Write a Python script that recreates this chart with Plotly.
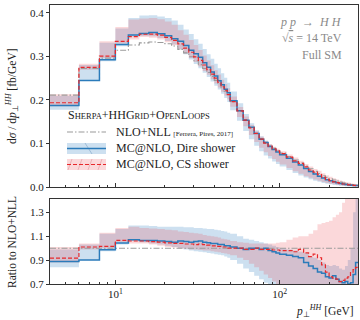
import plotly.graph_objects as go

# ---------------- data ----------------
edges = list(range(4, 50, 2)) + list(range(50, 100, 5)) + list(range(100, 301, 10))

# NLO+NLL [fb/GeV]
nll = [0.211, 0.272, 0.296, 0.314, 0.326, 0.331, 0.333, 0.332, 0.329, 0.324, 0.316, 0.308,
       0.299, 0.290, 0.281, 0.272, 0.263, 0.254, 0.245, 0.237, 0.228, 0.220, 0.212,
       0.196, 0.175, 0.155, 0.137, 0.123, 0.111, 0.102, 0.095, 0.089, 0.084,
       0.078, 0.070, 0.062, 0.055, 0.048, 0.042, 0.036, 0.031, 0.026, 0.022,
       0.019, 0.016, 0.0135, 0.0113, 0.0095, 0.008, 0.0067, 0.0056, 0.0047, 0.0039]

# ratios to NLO+NLL
dire_c = [0.888, 0.900, 0.987, 1.043, 1.070, 1.065, 1.065, 1.060, 1.055, 1.050, 1.060, 1.055,
          1.050, 1.055, 1.060, 1.050, 1.045, 1.040, 1.040, 1.030, 1.030, 1.020, 1.020,
          1.010, 1.000, 0.990, 1.000, 1.000, 0.990, 1.000, 0.980, 0.970, 0.960,
          0.950, 0.940, 0.930, 0.920, 0.880, 0.850, 0.830, 0.800, 0.790, 0.760,
          0.750, 0.770, 0.740, 0.720, 0.710, 0.720, 0.700, 0.710, 0.780, 0.880]
cs_c = [0.917, 1.010, 1.015, 1.065, 1.060, 1.060, 1.055, 1.050, 1.045, 1.040, 1.040, 1.035,
        1.035, 1.030, 1.035, 1.030, 1.025, 1.020, 1.020, 1.015, 1.010, 1.010, 1.000,
        1.000, 1.000, 0.990, 0.990, 1.000, 0.990, 0.990, 0.990, 0.985, 0.985,
        0.980, 0.980, 0.970, 0.990, 0.960, 0.930, 0.950, 0.920, 0.860, 0.800,
        0.760, 0.750, 0.740, 0.720, 0.730, 0.750, 0.760, 0.800, 0.820, 0.840]
dire_lo = [0.84, 0.90, 0.975, 1.03, 1.06, 1.05, 1.04, 1.03, 1.02, 1.01, 1.00, 0.99,
           0.98, 0.975, 0.97, 0.965, 0.96, 0.955, 0.95, 0.945, 0.94, 0.93, 0.92,
           0.90, 0.87, 0.83, 0.80, 0.77, 0.74, 0.71, 0.69, 0.66, 0.63,
           0.60, 0.56, 0.52, 0.48, 0.45, 0.42, 0.40, 0.38, 0.36, 0.34,
           0.32, 0.30, 0.28, 0.26, 0.24, 0.22, 0.20, 0.18, 0.16, 0.14]
dire_hi = [0.99, 1.03, 1.12, 1.16, 1.19, 1.19, 1.185, 1.18, 1.18, 1.18, 1.18, 1.175,
           1.175, 1.17, 1.17, 1.165, 1.16, 1.16, 1.155, 1.15, 1.145, 1.14, 1.13,
           1.12, 1.10, 1.08, 1.07, 1.06, 1.05, 1.04, 1.03, 1.02, 1.01,
           1.00, 0.99, 0.98, 0.97, 0.96, 0.93, 0.92, 0.90, 0.88, 0.86,
           0.85, 0.86, 0.85, 0.83, 0.82, 0.85, 0.90, 1.00, 1.30, 1.50]
cs_lo = [0.88, 0.99, 1.00, 1.05, 1.04, 1.04, 1.03, 1.02, 1.01, 1.005, 1.00, 0.995,
         0.99, 0.99, 0.985, 0.98, 0.98, 0.975, 0.97, 0.965, 0.96, 0.955, 0.95,
         0.94, 0.92, 0.90, 0.87, 0.84, 0.81, 0.78, 0.75, 0.72, 0.69,
         0.66, 0.62, 0.58, 0.55, 0.52, 0.50, 0.48, 0.46, 0.44, 0.42,
         0.40, 0.38, 0.36, 0.34, 0.32, 0.30, 0.30, 0.30, 0.30, 0.30]
cs_hi = [1.01, 1.04, 1.13, 1.17, 1.18, 1.17, 1.165, 1.16, 1.155, 1.15, 1.14, 1.135,
         1.13, 1.125, 1.12, 1.11, 1.105, 1.10, 1.095, 1.09, 1.08, 1.075, 1.07,
         1.06, 1.05, 1.045, 1.04, 1.04, 1.04, 1.04, 1.04, 1.04, 1.045,
         1.05, 1.07, 1.09, 1.10, 1.10, 1.12, 1.15, 1.20, 1.21, 1.22,
         1.23, 1.26, 1.28, 1.30, 1.38, 1.45, 1.50, 1.55, 1.60, 1.60]

x_ticks = [10, 100]
x_ticklabels = ["10<sup>1</sup>", "10<sup>2</sup>"]
x_minor = [4, 5, 6, 7, 8, 9, 20, 30, 40, 50, 60, 70, 80, 90, 200, 300]

# ---------------- style ----------------
BLUE = "#2b7bba"
RED = "#e8282b"
GRAY = "#9a9a9a"
BLUE_F = "rgba(70,140,200,0.27)"
RED_F = "rgba(235,60,70,0.20)"
FONT = "Liberation Serif"
AX = "#333333"

def step(v):
    return list(v) + [v[-1]]

def absval(r):
    return [a * b for a, b in zip(r, nll)]

fig = go.Figure()

def add_panel(xa, ya, vals):
    dl, dh, cl, ch, g, dc, cc = vals
    common = dict(x=edges, line_shape="hv", xaxis=xa, yaxis=ya, showlegend=False,
                  hoverinfo="skip")
    fig.add_trace(go.Scatter(y=step(dl), mode="lines", line=dict(width=0), **common))
    fig.add_trace(go.Scatter(y=step(dh), mode="lines", line=dict(width=0), fill="tonexty",
                             fillcolor=BLUE_F, **common))
    fig.add_trace(go.Scatter(y=step(cl), mode="lines", line=dict(width=0), **common))
    fig.add_trace(go.Scatter(y=step(ch), mode="lines", line=dict(width=0), fill="tonexty",
                             fillcolor=RED_F, **common))
    fig.add_trace(go.Scatter(y=step(g), mode="lines",
                             line=dict(color=GRAY, width=1.1, dash="6px,2px,1.5px,2px"), **common))
    fig.add_trace(go.Scatter(y=step(dc), mode="lines", line=dict(color=BLUE, width=1.5), **common))
    fig.add_trace(go.Scatter(y=step(cc), mode="lines",
                             line=dict(color=RED, width=1.2, dash="4px,2px"), **common))

add_panel("x", "y", [absval(dire_lo), absval(dire_hi), absval(cs_lo), absval(cs_hi),
                     nll, absval(dire_c), absval(cs_c)])
ones = [1.0] * len(nll)
add_panel("x2", "y2", [dire_lo, dire_hi, cs_lo, cs_hi, ones, dire_c, cs_c])

# layout geometry (pixels): plot left 50, right 358, top 5, bottom 284
H = 279.0
def py(p):
    return (284 - p) / H
def px(p):
    return (p - 50) / 308.0

xcommon = dict(type="log", range=[0.60206, 2.4771], showgrid=False, zeroline=False,
               showline=True, linecolor=AX, linewidth=1, mirror=True,
               ticks="inside", ticklen=4, tickcolor=AX, tickvals=x_ticks,
               minor=dict(tickvals=x_minor, ticks="inside", ticklen=2.5, tickcolor=AX))
fig.update_layout(
    width=360, height=320,
    margin=dict(l=50, r=2, t=5, b=36),
    paper_bgcolor="white", plot_bgcolor="white",
    font=dict(family=FONT, size=11, color="#222"),
    xaxis=dict(domain=[0, 1], anchor="y", showticklabels=False, **xcommon),
    yaxis=dict(domain=[py(187), 1.0], range=[0, 0.418], tickvals=[0, 0.1, 0.2, 0.3, 0.4],
               ticktext=["0.0", "0.1", "0.2", "0.3", "0.4"],
               showgrid=False, zeroline=False, showline=True, linecolor=AX, mirror=True,
               ticks="outside", ticklen=3, tickcolor=AX, anchor="x"),
    xaxis2=dict(domain=[0, 1], anchor="y2", ticktext=x_ticklabels, **xcommon),
    yaxis2=dict(domain=[0, py(199)], range=[0.7, 1.412], tickvals=[0.7, 0.9, 1.1, 1.3],
                ticktext=["0.7", "0.9", "1.1", "1.3"],
                showgrid=False, zeroline=False, showline=True, linecolor=AX, mirror=True,
                ticks="outside", ticklen=3, tickcolor=AX, anchor="x2"),
)

ann = []
def txt(x, y, t, size=12, color="#222", xanchor="left", angle=0):
    ann.append(dict(x=px(x), y=py(y), xref="paper", yref="paper", text=t, showarrow=False,
                    xanchor=xanchor, yanchor="middle", textangle=angle,
                    font=dict(family=FONT, size=size, color=color)))

# axis titles
txt(12, 96, "d<i>σ</i> / d<i>p</i><sub>⊥</sub><sup><i>HH</i></sup> [fb/GeV]", size=11.5,
    xanchor="center", angle=-90)
txt(12, 242, "Ratio to NLO+NLL", size=11.5, xanchor="center", angle=-90)
txt(356, 311, "<i>p</i><sub>⊥</sub><sup><i>HH</i></sup> [GeV]", size=11.5, xanchor="right")

# top-right labels
LG = "#8a8a8a"
txt(344, 22, "<i>p p</i>  →  <i>H H</i>", size=12, color=LG, xanchor="right")
txt(344, 38, "√<span style='text-decoration:overline'><i>s</i></span> = 14 TeV", size=12,
    color=LG, xanchor="right")
txt(344, 55, "Full SM", size=12, color=LG, xanchor="right")

# legend
sm = "<span style='font-size:8.5px'>"
txt(66, 115, "S" + sm + "HERPA</span>+HHG" + sm + "RID</span>+O" + sm + "PEN</span>L" + sm +
    "OOPS</span>", size=12)
txt(114, 132, "NLO+NLL <span style='font-size:7px'>[Ferrera, Pires, 2017]</span>", size=12)
txt(114, 148, "MC@NLO, Dire shower", size=12)
txt(114, 164, "MC@NLO, CS shower", size=12)
fig.update_layout(annotations=ann)

shapes = []
def pline(x0, y0, x1, y1, color, width, dash="solid"):
    shapes.append(dict(type="line", xref="paper", yref="paper", x0=px(x0), y0=py(y0),
                       x1=px(x1), y1=py(y1), line=dict(color=color, width=width, dash=dash)))
def prect(x0, y0, x1, y1, fill):
    shapes.append(dict(type="rect", xref="paper", yref="paper", x0=px(x0), y0=py(y0),
                       x1=px(x1), y1=py(y1), fillcolor=fill, line=dict(width=0)))

pline(67, 132, 106, 132, GRAY, 1.1, "6px,2px,1.5px,2px")
prect(67, 143, 106, 154, BLUE_F)
pline(85, 143, 92, 154, "rgba(70,120,170,0.5)", 0.7)
pline(67, 148.5, 106, 148.5, BLUE, 1.5)
prect(67, 159, 106, 170, RED_F)
for hx in (72, 82, 92, 102):
    pline(hx - 4, 170, hx, 159, "rgba(200,90,100,0.45)", 0.7)
pline(67, 164.5, 106, 164.5, RED, 1.2, "4px,2px")
fig.update_layout(shapes=shapes)

fig.write_html("out.html")
